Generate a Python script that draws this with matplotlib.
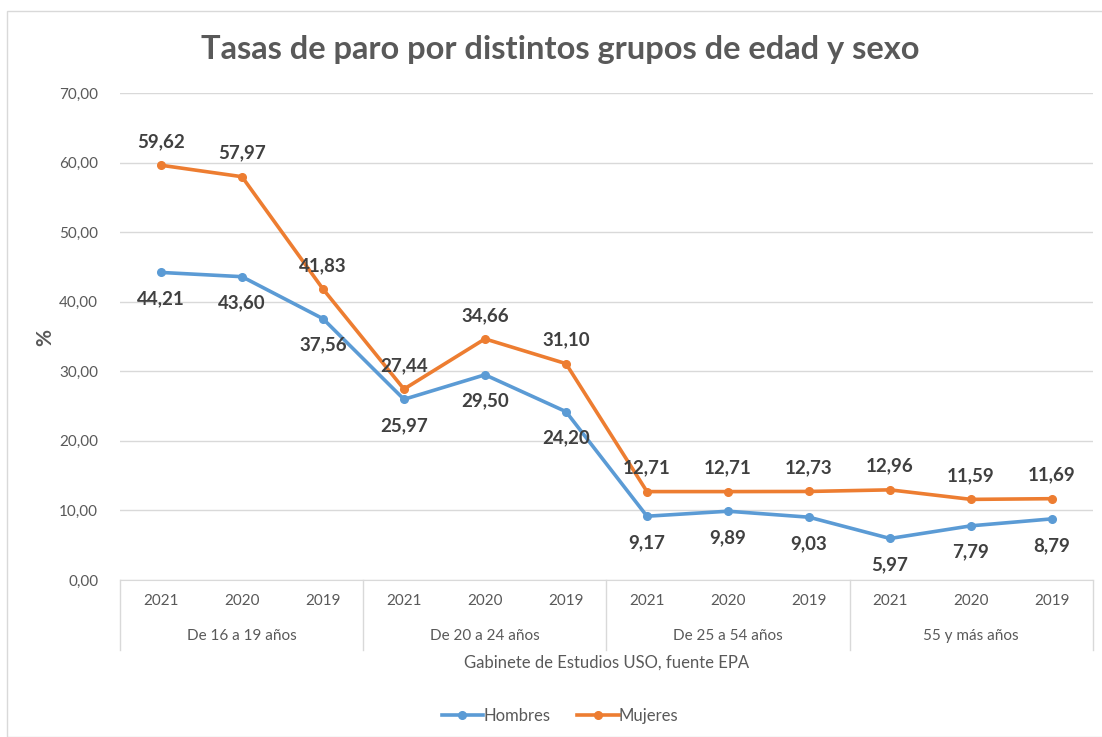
import matplotlib.pyplot as plt
from matplotlib.patches import Rectangle
import matplotlib.transforms as mtransforms

plt.rcParams['font.family'] = ['Lato', 'DejaVu Sans']

#############################
### Data ###
#############################
years = ["2021", "2020", "2019"]
groups = ["De 16 a 19 años", "De 20 a 24 años", "De 25 a 54 años", "55 y más años"]
hombres = [44.21, 43.60, 37.56, 25.97, 29.50, 24.20, 9.17, 9.89, 9.03, 5.97, 7.79, 8.79]
mujeres = [59.62, 57.97, 41.83, 27.44, 34.66, 31.10, 12.71, 12.71, 12.73, 12.96, 11.59, 11.69]
yticks = [0, 10, 20, 30, 40, 50, 60, 70]

blue = "#5B9BD5"
orange = "#ED7D31"
grid_c = "#D9D9D9"
text_c = "#595959"
label_c = "#404040"

def fmt(v):
    return "{:.2f}".format(v).replace(".", ",")

fig = plt.figure(figsize=(11.02, 7.37), dpi=100)
ax = fig.add_axes([0.1093, 0.2130, 0.8821, 0.6608])

# outer chart frame
fig.patches.append(Rectangle((7 / 1102, 0), 1.0, 1 - 11 / 737, transform=fig.transFigure,
                             fill=False, edgecolor=grid_c, linewidth=1.0))

x = list(range(len(hombres)))
ax.plot(x, hombres, color=blue, lw=2.6, marker="o", ms=5.5, label="Hombres", zorder=3)
ax.plot(x, mujeres, color=orange, lw=2.6, marker="o", ms=5.5, label="Mujeres", zorder=3)

for i, v in enumerate(mujeres):
    ax.annotate(fmt(v), (i, v), xytext=(0, 17), textcoords="offset points",
                ha="center", va="center", fontsize=13.5, fontweight="bold", color=label_c)
for i, v in enumerate(hombres):
    ax.annotate(fmt(v), (i, v), xytext=(0, -19), textcoords="offset points",
                ha="center", va="center", fontsize=13.5, fontweight="bold", color=label_c)

ax.set_xlim(-0.5, len(x) - 0.5)
ax.set_ylim(0, 70)
ax.set_yticks(yticks)
ax.set_yticklabels([fmt(t) for t in yticks], fontsize=11, color=text_c)
ax.tick_params(axis="y", length=0, pad=16)
ax.grid(axis="y", color=grid_c, lw=1.0)
ax.set_axisbelow(True)
for s in ["top", "right", "left"]:
    ax.spines[s].set_visible(False)
ax.spines["bottom"].set_color(grid_c)

# two-level category axis
ax.set_xticks(x)
ax.set_xticklabels(years * len(groups), fontsize=11, color=text_c)
ax.tick_params(axis="x", length=0, pad=10)
trans = mtransforms.blended_transform_factory(ax.transData, ax.transAxes)
axh = 0.6608 * 737
for g, name in enumerate(groups):
    ax.text(g * 3 + 1, -56 / axh, name, transform=trans, ha="center", va="center",
            fontsize=11, color=text_c)
for g in range(len(groups) + 1):
    ax.plot([g * 3 - 0.5, g * 3 - 0.5], [0, -70 / axh], transform=trans,
            color=grid_c, lw=1.0, clip_on=False)

ax.text(0.5, -83 / axh, "Gabinete de Estudios USO, fuente EPA", transform=ax.transAxes,
        ha="center", va="center", fontsize=12, color=text_c)
fig.text(45 / 1102, 1 - 337 / 737, "%", rotation=90, ha="center", va="center",
         fontsize=15, fontweight="bold", color=text_c)

fig.text(0.508, 1 - 50 / 737, "Tasas de paro por distintos grupos de edad y sexo",
         ha="center", va="center", fontsize=23.5, fontweight="bold", color=text_c)

fig.legend(loc="center", bbox_to_anchor=(0.508, 1 - 716 / 737), ncol=2, frameon=False,
           fontsize=12, handlelength=2.5, handletextpad=0.0, columnspacing=1.6,
           labelcolor=text_c)

fig.savefig("out.png", dpi=100)
